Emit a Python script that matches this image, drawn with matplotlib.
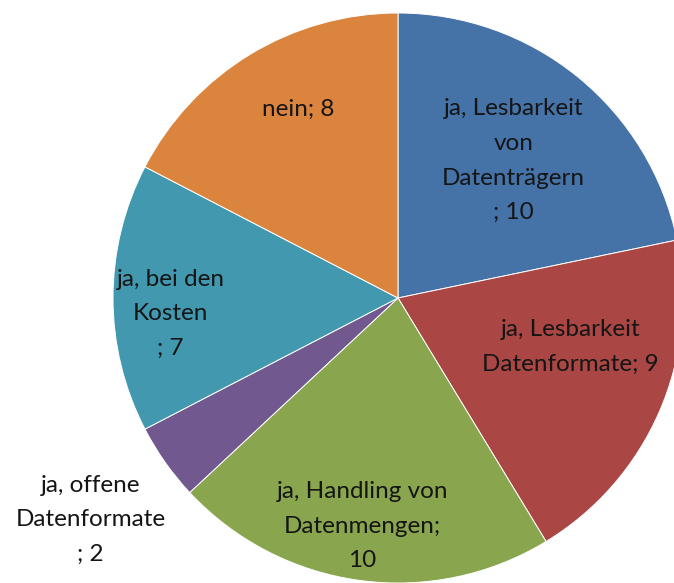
import numpy as np
import matplotlib
matplotlib.use("Agg")
import matplotlib.pyplot as plt

# Data
categories = [
    "ja, Lesbarkeit\nvon\nDatenträgern\n; 10",
    "ja, Lesbarkeit\nDatenformate; 9",
    "ja, Handling von\nDatenmengen;\n10",
    "ja, offene\nDatenformate\n; 2",
    "ja, bei den\nKosten\n; 7",
    "nein; 8",
]
values = [10, 9, 10, 2, 7, 8]
colors = ["#4572A7", "#AA4643", "#89A54E", "#71588F", "#4198AF", "#DB843D"]

# label layout (radius as fraction of pie radius, angular offset in degrees)
label_r = [0.63, 0.63, 0.81, 1.33, 0.80, 0.75]
label_dang = [-1.0, 7.6, -1.0, 0.6, 4.0, -3.5]

W, H, DPI = 674, 583, 100
fig = plt.figure(figsize=(W / DPI, H / DPI), dpi=DPI)
ax = fig.add_axes([0, 0, 1, 1])

R = 285.0
cx, cy = 398.0, 298.0  # pixel center (from top)
wedges, _ = ax.pie(values, colors=colors, startangle=90, counterclock=False,
                   radius=1.0, wedgeprops=dict(edgecolor="white", linewidth=0.7))

ax.set_xlim(-cx / R, (W - cx) / R)
ax.set_ylim(-(H - cy) / R, cy / R)
ax.set_aspect("equal")
ax.axis("off")

for w, lab, r, da in zip(wedges, categories, label_r, label_dang):
    mid = np.deg2rad((w.theta1 + w.theta2) / 2 + da)
    ax.text(r * np.cos(mid), r * np.sin(mid), lab, ha="center", va="center",
            fontsize=17.5, family=["Lato", "DejaVu Sans"], color="#151515",
            linespacing=1.8)

fig.savefig("out.png", dpi=DPI)
